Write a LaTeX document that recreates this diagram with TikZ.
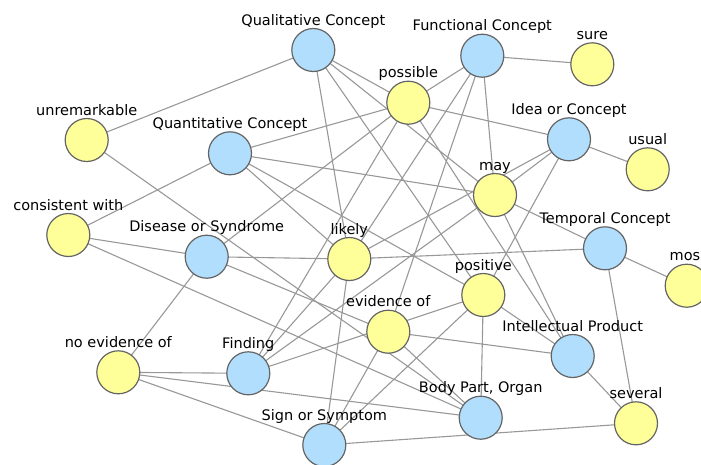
\documentclass[tikz,border=0pt]{standalone}
\usepackage{fontspec}
\setmainfont{DejaVu Sans}
\pgfdeclarelayer{bg}
\pgfsetlayers{bg,main}
\definecolor{nblue}{RGB}{176,222,252}
\definecolor{nyel}{RGB}{255,255,153}
\definecolor{nrim}{RGB}{100,100,100}
\definecolor{eg}{RGB}{152,152,152}
\begin{document}
\begin{tikzpicture}[x=1pt,y=-1pt,
  conc/.style={circle,draw=nrim,line width=1.2pt,fill=nblue,minimum size=43pt,inner sep=0pt},
  word/.style={conc,fill=nyel},
  lab/.style={anchor=base,inner sep=0pt,font=\fontsize{14.5}{17}\selectfont},
  edge/.style={draw=eg,line width=1.1pt}]
\useasboundingbox (0,0) rectangle (701,464);
\clip (0,0) rectangle (701,464);
% concept nodes
\node[conc] (QC) at (313.3,50) {};
\node[conc] (FC) at (482.3,55.7) {};
\node[conc] (IC) at (569,139.3) {};
\node[conc] (QnC) at (230,153.3) {};
\node[conc] (DS) at (206.7,256.7) {};
\node[conc] (TC) at (605,248.3) {};
\node[conc] (IP) at (572.7,356) {};
\node[conc] (Fi) at (248.3,373.3) {};
\node[conc] (BP) at (480.7,417.7) {};
\node[conc] (SS) at (324.3,445) {};
% word nodes
\node[word] (sure) at (592.3,64.3) {};
\node[word] (pos) at (408.3,102.7) {};
\node[word] (unr) at (86.7,140) {};
\node[word] (usual) at (647.7,169.3) {};
\node[word] (may) at (495,195) {};
\node[word] (cw) at (68.3,235) {};
\node[word] (lik) at (349.3,259) {};
\node[word] (mos) at (686.7,285.7) {};
\node[word] (posi) at (483.3,295) {};
\node[word] (ev) at (388.3,331.7) {};
\node[word] (nev) at (118.3,372.3) {};
\node[word] (sev) at (636,423.3) {};
% labels
\node[lab] (QCl) at (313.3,25) {Qualitative Concept};
\node[lab] (FCl) at (482.3,30.7) {Functional Concept};
\node[lab] (ICl) at (569,114.3) {Idea or Concept};
\node[lab] (QnCl) at (230,128.3) {Quantitative Concept};
\node[lab] (DSl) at (206.7,231.7) {Disease or Syndrome};
\node[lab] (TCl) at (605,223.3) {Temporal Concept};
\node[lab] (IPl) at (572.7,331) {Intellectual Product};
\node[lab] (Fil) at (248.3,348.3) {Finding};
\node[lab] (BPl) at (480.7,392.7) {Body Part, Organ};
\node[lab] (SSl) at (324.3,420) {Sign or Symptom};
\node[lab] (surel) at (592.3,39.3) {sure};
\node[lab] (posl) at (408.3,77.7) {possible};
\node[lab] (unrl) at (86.7,115) {unremarkable};
\node[lab] (usuall) at (647.7,144.3) {usual};
\node[lab] (mayl) at (495,170) {may};
\node[lab] (cwl) at (68.3,210) {consistent with};
\node[lab] (likl) at (349.3,234) {likely};
\node[lab,anchor=base west] (mosl) at (669.5,260.7) {mos};
\node[lab] (posil) at (483.3,270) {positive};
\node[lab] (evl) at (388.3,306.7) {evidence of};
\node[lab] (nevl) at (118.3,347.3) {no evidence of};
\node[lab] (sevl) at (636,398.3) {several};
% edges
\begin{pgfonlayer}{bg}
\foreach \a/\b in {QC/unr,QC/pos,QC/lik,QC/may,QC/posi,
  FC/sure,FC/pos,FC/may,FC/ev,FC/lik,
  IC/usual,IC/pos,IC/may,IC/lik,IC/posi,
  QnC/cw,QnC/pos,QnC/may,QnC/lik,QnC/posi,
  DS/cw,DS/nev,DS/lik,DS/pos,DS/ev,
  TC/mos,TC/may,TC/lik,TC/sev,
  IP/sev,IP/posi,IP/ev,IP/may,IP/pos,
  Fi/nev,Fi/pos,Fi/lik,Fi/may,Fi/posi,
  BP/posi,BP/ev,BP/nev,BP/cw,BP/unr,
  SS/nev,SS/lik,SS/ev,SS/posi,SS/sev}
  \draw[edge] (\a.center) -- (\b.center);
\end{pgfonlayer}
\end{tikzpicture}
\end{document}
